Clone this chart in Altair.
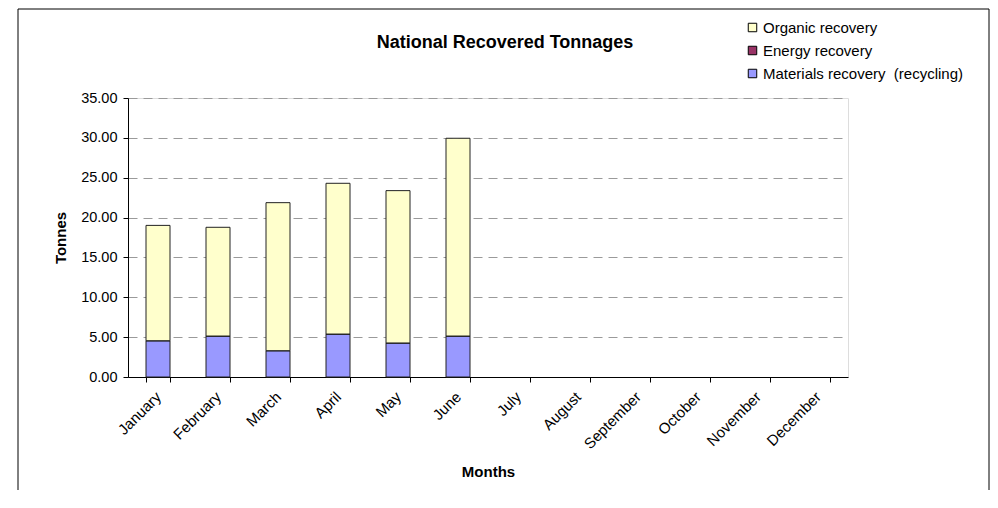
import altair as alt
import pandas as pd

months = ["January", "February", "March", "April", "May", "June",
          "July", "August", "September", "October", "November", "December"]
data_months = ["January", "February", "March", "April", "May", "June"]
series = ["Organic recovery", "Energy recovery", "Materials recovery\u00a0 (recycling)"]
colors = ["#FFFFCC", "#993366", "#9999FF"]

materials = [4.55, 5.14, 3.30, 5.39, 4.27, 5.14]
energy = [0.0, 0.0, 0.0, 0.0, 0.0, 0.0]
organic = [14.47, 13.64, 18.57, 18.91, 19.11, 24.81]

y_ticks = [0, 5, 10, 15, 20, 25, 30, 35]

rows = []
for i, m in enumerate(data_months):
    for s, vals, rank in ((series[2], materials, 0), (series[1], energy, 1), (series[0], organic, 2)):
        rows.append({"month": m, "series": s, "tonnes": vals[i], "rank": rank})
df = pd.DataFrame(rows)

FONT = "Liberation Sans"

bars = alt.Chart(df).mark_bar(stroke="#222222", strokeWidth=1).encode(
    x=alt.X("month:N", sort=months,
            scale=alt.Scale(domain=months, paddingInner=0.6, paddingOuter=0.3),
            axis=alt.Axis(title="Months", labelAngle=-45, labelAlign="right",
                          labelBaseline="middle", labelPadding=12, labelFontSize=15,
                          labelFont=FONT, labelColor="black", tickBand="extent",
                          tickSize=5, tickColor="black", domainColor="black",
                          titleFont=FONT, titleFontSize=15, titleFontWeight="bold",
                          titleColor="black", titleY=94, titleBaseline="middle",
                          grid=False)),
    y=alt.Y("tonnes:Q", stack="zero",
            scale=alt.Scale(domain=[0, 35], nice=False),
            axis=alt.Axis(title="Tonnes", values=y_ticks, format=".2f",
                          labelFontSize=14.5, labelFont=FONT, labelColor="black",
                          labelPadding=6, tickSize=5, tickColor="black",
                          domainColor="black", grid=True, gridColor="#9a9a9a",
                          gridDash=[9, 6], titleFont=FONT, titleFontSize=15,
                          titleFontWeight="bold", titleColor="black",
                          titleX=-68, titleY=139.5, titleAngle=-90,
                          titleAlign="center", titleBaseline="middle")),
    color=alt.Color("series:N",
                    scale=alt.Scale(domain=series, range=colors),
                    legend=alt.Legend(title=None, orient="none", legendX=617,
                                      legendY=-78, symbolType="square",
                                      symbolSize=72, symbolStrokeColor="black",
                                      symbolStrokeWidth=1, symbolOpacity=1,
                                      labelFont=FONT, labelFontSize=15,
                                      labelColor="black", labelOffset=3,
                                      labelLimit=400, rowPadding=7, padding=0)),
    order=alt.Order("rank:Q", sort="ascending"),
)

frame = alt.Chart(pd.DataFrame({"k": [0]})).mark_rect(
    filled=False, stroke="black", strokeWidth=1
).encode(
    x=alt.value(-110), x2=alt.value(861), y=alt.value(-89), y2=alt.value(520)
)

chart = alt.layer(bars, frame).properties(
    width=720,
    height=279,
    autosize=alt.AutoSizeParams(type="none"),
    padding={"left": 120, "top": 90, "right": 142, "bottom": 113},
    title=alt.TitleParams("National Recovered Tonnages", font=FONT, fontSize=18,
                          fontWeight="bold", color="black", anchor="middle",
                          baseline="alphabetic", dx=17, dy=57, offset=0),
).configure_view(stroke="#8c8c8c", strokeWidth=1.5).configure(background="white")

chart.save("out.html", embed_options={"renderer": "svg", "actions": False})
